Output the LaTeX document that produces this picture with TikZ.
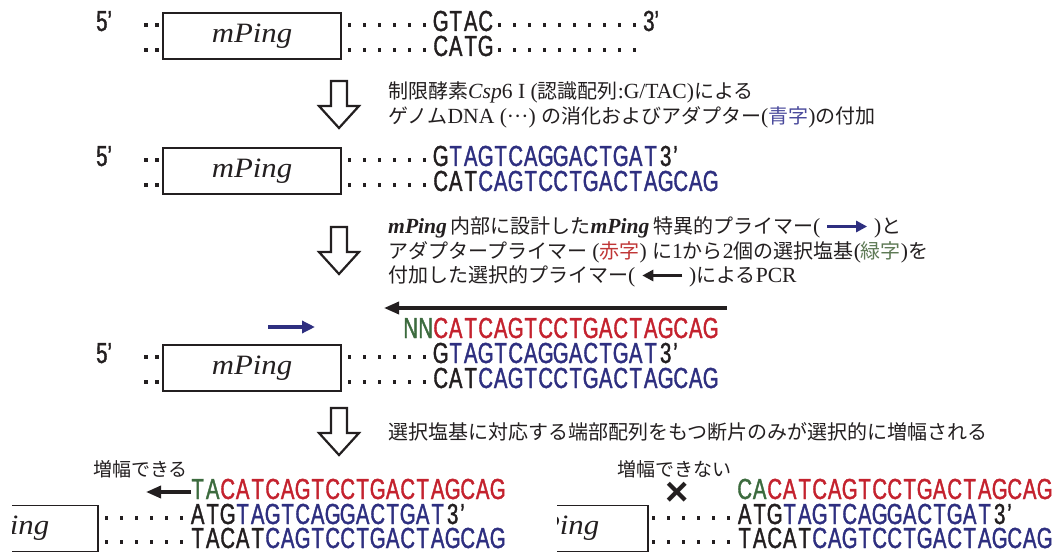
\documentclass[tikz,border=0pt]{standalone}
\usepackage{fontspec}
\usetikzlibrary{arrows.meta}
\setmainfont{Liberation Serif}[Scale=1.08]
\newfontfamily\jp{Noto Sans CJK JP}
\newfontfamily\seqf[FakeStretch=0.7,FakeBold=1.3]{Liberation Sans}
\newfontfamily\mpf[FakeStretch=1.1]{Liberation Serif}
\definecolor{seqblue}{HTML}{2E2F80}
\definecolor{seqred}{HTML}{C4222E}
\definecolor{seqgreen}{HTML}{3C6B3E}
\definecolor{txtblue}{HTML}{4A4A9C}
\definecolor{txtred}{HTML}{C03636}
\definecolor{txtgreen}{HTML}{5E7A55}
\definecolor{inkk}{HTML}{231F20}
\newlength\seqpitch
\setlength\seqpitch{15pt}
\makeatletter
% one base per fixed-width cell
\newcommand\sq[1]{\@tfor\sq@c:=#1\do{\makebox[\seqpitch][c]{\sq@c}}}
\makeatother
% genomic dots, pitch 15: first centre x, y, count
\newcommand\dotrow[3]{\foreach \k in {1,...,#3}{\fill[inkk] ({#1+(\k-1)*15-1.8},{#2-1.8}) rectangle ++(3.6,3.6);}}
% small primer arrows used inside the text
\newcommand\legblue{\tikz[baseline={(0pt,-7pt)},x=1pt,y=1pt]\draw[seqblue,line width=3pt,-{Triangle[length=11pt,width=11pt]}] (0,0) -- (40,0);}
\newcommand\legblack{\tikz[baseline={(0pt,-7pt)},x=1pt,y=1pt]\draw[inkk,line width=3pt,-{Triangle[length=11pt,width=11pt]}] (40,0) -- (0,0);}
\tikzset{
  sinkarrow/.pic={\draw[inkk,line width=2.2pt,line join=miter] (-8,0) -- (8,0) -- (8,25) -- (20,25) -- (0,47) -- (-20,25) -- (-8,25) -- cycle;},
  seqtxt/.style={inner sep=0pt,anchor=base west,text=inkk,font=\seqf\fontsize{29}{30}\selectfont},
  jptxt/.style={inner sep=0pt,anchor=base west,text=inkk,font=\fontsize{20}{24}\selectfont},
  mpbox/.style={draw=inkk,line width=1.6pt,inner sep=0pt,minimum width=178pt,minimum height=46pt,text=inkk,font=\mpf\itshape\fontsize{28}{30}\selectfont},
  primer/.style={line width=3.4pt,-{Triangle[length=15pt,width=12pt]}}
}
\begin{document}
\begin{tikzpicture}[x=1pt,y=-1pt]
\useasboundingbox (0,0) rectangle (1057,553);
\fill[white] (0,0) rectangle (1057,553);
\clip (0,0) rectangle (1057,553);

% ---------- fragment before digestion ----------
\node[seqtxt] (p1) at (96,31) {5’};
\fill[inkk] (144.2,23.2) rectangle ++(3.6,3.6) (155.2,23.2) rectangle ++(3.6,3.6);
\fill[inkk] (144.2,48.2) rectangle ++(3.6,3.6) (155.2,48.2) rectangle ++(3.6,3.6);
\node[mpbox] (box1) at (252,36) {mPing};
\dotrow{349.5}{25}{6}
\dotrow{349.5}{50}{6}
\node[seqtxt] (t1) at (433,31) {\sq{GTAC}};
\node[seqtxt] (b1) at (433,56) {\sq{CATG}};
\dotrow{499.5}{25}{10}
\dotrow{499.5}{50}{10}
\node[seqtxt] (e1) at (643,31) {3’};

\pic (a1) at (339,81) {sinkarrow};
\node[jptxt] (s1a) at (388,98.5) {{\jp 制限酵素}\textit{Csp}6 I ({\jp 認識配列}:G/TAC){\jp による}};
\node[jptxt] (s1b) at (388,123.5) {{\jp ゲノム}DNA (···) {\jp の消化およびアダプター}({\jp\color{txtblue}青字}){\jp の付加}};

% ---------- adaptor ligated ----------
\node[seqtxt] (p2) at (96,166) {5’};
\fill[inkk] (144.2,158.2) rectangle ++(3.6,3.6) (155.2,158.2) rectangle ++(3.6,3.6);
\fill[inkk] (144.2,183.2) rectangle ++(3.6,3.6) (155.2,183.2) rectangle ++(3.6,3.6);
\node[mpbox] (box2) at (252,171) {mPing};
\dotrow{349.5}{160}{6}
\dotrow{349.5}{185}{6}
\node[seqtxt] (t2) at (433,166) {\sq{G}{\color{seqblue}\sq{TAGTCAGGACTGAT}}\sq{3}’};
\node[seqtxt] (b2) at (433,191) {\sq{CAT}{\color{seqblue}\sq{CAGTCCTGACTAGCAG}}};

\pic (a2) at (339,227) {sinkarrow};
\node[jptxt] (s2a) at (388,233.5) {\textbf{\textit{mPing}}\,{\jp 内部に設計した}\textbf{\textit{mPing}}\,{\jp 特異的プライマー}( \legblue\ ){\jp と}};
\node[jptxt] (s2b) at (388,258.5) {{\jp アダプタープライマー} ({\jp\color{txtred}赤字}) {\jp に}1{\jp から}2{\jp 個の選択塩基}({\jp\color{txtgreen}緑字}){\jp を}};
\node[jptxt] (s2c) at (388,282.5) {{\jp 付加した選択的プライマー}( \legblack\ ){\jp による}PCR};

% ---------- selective PCR ----------
\coordinate (lp0) at (727,308);
\coordinate (lp1) at (384,308);
\draw[primer,inkk] (lp0) -- (lp1);
\node[seqtxt] (sel) at (403,338) {{\color{seqgreen}\sq{NN}}{\color{seqred}\sq{CATCAGTCCTGACTAGCAG}}};
\coordinate (mp0) at (268,327);
\coordinate (mp1) at (315,327);
\draw[seqblue,line width=3.4pt,-{Triangle[length=13pt,width=12pt]}] (mp0) -- (mp1);
\node[seqtxt] (p3) at (96,363) {5’};
\fill[inkk] (144.2,355.2) rectangle ++(3.6,3.6) (155.2,355.2) rectangle ++(3.6,3.6);
\fill[inkk] (144.2,380.2) rectangle ++(3.6,3.6) (155.2,380.2) rectangle ++(3.6,3.6);
\node[mpbox] (box3) at (252,368) {mPing};
\dotrow{349.5}{357}{6}
\dotrow{349.5}{382}{6}
\node[seqtxt] (t3) at (433,363) {\sq{G}{\color{seqblue}\sq{TAGTCAGGACTGAT}}\sq{3}’};
\node[seqtxt] (b3) at (433,388) {\sq{CAT}{\color{seqblue}\sq{CAGTCCTGACTAGCAG}}};

\pic (a3) at (339,408) {sinkarrow};
\node[jptxt] (s3) at (388,439.5) {{\jp 選択塩基に対応する端部配列をもつ断片のみが選択的に増幅される}};

% ---------- amplified ----------
\node[jptxt,font=\jp\fontsize{19}{22}\selectfont] (ok) at (93,476) {増幅できる};
\coordinate (lq0) at (191,492);
\coordinate (lq1) at (146,492);
\draw[primer,inkk] (lq0) -- (lq1);
\node[seqtxt] (lr) at (190,499) {{\color{seqgreen}\sq{TA}}{\color{seqred}\sq{CATCAGTCCTGACTAGCAG}}};
\begin{scope}
\clip (12,440) rectangle (140,553);
\node[mpbox] (box4) at (9,528.5) {mPing};
\end{scope}
\dotrow{106.5}{518}{6}
\dotrow{106.5}{542}{6}
\node[seqtxt] (lt) at (190,524) {\sq{ATG}{\color{seqblue}\sq{TAGTCAGGACTGAT}}\sq{3}’};
\node[seqtxt] (lb) at (190,548) {\sq{TACAT}{\color{seqblue}\sq{CAGTCCTGACTAGCAG}}};

% ---------- not amplified ----------
\node[jptxt,font=\jp\fontsize{19}{22}\selectfont] (ng) at (617,476) {増幅できない};
\node[inner sep=0pt,text=inkk,font=\fontspec{Liberation Sans}\bfseries\fontsize{40}{40}\selectfont] (cross) at (677,494) {×};
\node[seqtxt] (rr) at (737,499) {{\color{seqgreen}\sq{CA}}{\color{seqred}\sq{CATCAGTCCTGACTAGCAG}}};
\begin{scope}
\clip (557,440) rectangle (700,553);
\node[mpbox] (box5) at (559,528.5) {mPing};
\end{scope}
\dotrow{653.5}{518}{6}
\dotrow{653.5}{542}{6}
\node[seqtxt] (rt) at (737,524) {\sq{ATG}{\color{seqblue}\sq{TAGTCAGGACTGAT}}\sq{3}’};
\node[seqtxt] (rb) at (737,548) {\sq{TACAT}{\color{seqblue}\sq{CAGTCCTGACTAGCAG}}};
\end{tikzpicture}
\end{document}
